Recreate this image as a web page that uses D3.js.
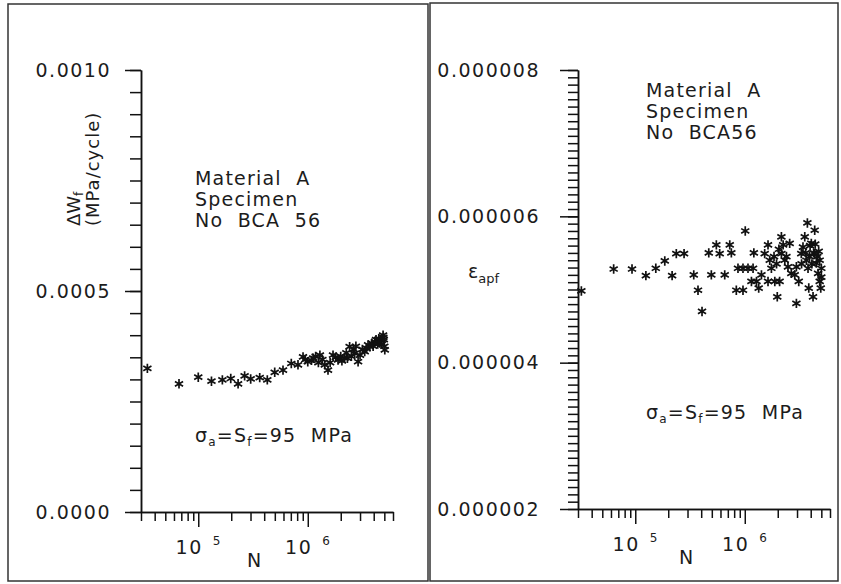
<!DOCTYPE html>
<html lang="en">
<head>
<meta charset="utf-8">
<title>Material A - specimen BCA 56</title>
<script src="https://cdn.jsdelivr.net/npm/d3@7"></script>
<style>
  body { margin: 0; background: #fff; }
  svg { display: block; font-family: "DejaVu Sans", sans-serif; }
  text { fill: #1c1c1c; }
</style>
</head>
<body>
<script>
// left panel: plastic strain energy per cycle (MPa/cycle) against N
var wfCycles = [3.43e4, 6.67e4, 1.00e5, 1.32e5, 1.66e5, 1.98e5, 2.31e5, 2.65e5, 3.01e5, 3.64e5,
  4.27e5, 4.99e5, 5.94e5, 7.07e5, 8.14e5, 9.05e5, 9.50e5, 1.00e6, 1.08e6, 1.12e6,
  1.18e6, 1.25e6, 1.29e6, 1.36e6, 1.43e6, 1.53e6, 1.60e6, 1.70e6, 1.80e6, 1.89e6,
  2.00e6, 2.05e6, 2.17e6, 2.25e6, 2.30e6, 2.41e6, 2.50e6, 2.60e6, 2.68e6, 2.75e6,
  2.88e6, 3.00e6, 3.15e6, 3.31e6, 3.45e6, 3.55e6, 3.68e6, 3.85e6, 3.95e6, 4.09e6,
  4.20e6, 4.35e6, 4.45e6, 4.54e6, 4.65e6, 4.75e6, 4.87e6, 4.90e6, 4.95e6, 5.00e6, 5.05e6];
var wfEnergy = [0.000325, 0.000290, 0.000305, 0.000296, 0.000299, 0.000302, 0.000290, 0.000308, 0.000301, 0.000304,
  0.000299, 0.000316, 0.000321, 0.000336, 0.000333, 0.000351, 0.000345, 0.000340, 0.000343, 0.000348,
  0.000352, 0.000338, 0.000355, 0.000345, 0.000333, 0.000321, 0.000338, 0.000355, 0.000350, 0.000344,
  0.000352, 0.000342, 0.000348, 0.000360, 0.000348, 0.000374, 0.000352, 0.000368, 0.000359, 0.000375,
  0.000340, 0.000355, 0.000368, 0.000363, 0.000370, 0.000378, 0.000374, 0.000382, 0.000375, 0.000385,
  0.000390, 0.000380, 0.000392, 0.000382, 0.000390, 0.000380, 0.000400, 0.000395, 0.000390, 0.000375, 0.000367];

// right panel: plastic strain amplitude against N
var epsCycles = [3.22e4, 6.35e4, 9.34e4, 1.25e5, 1.54e5, 1.86e5, 2.17e5, 2.37e5, 2.79e5, 3.42e5,
  3.74e5, 4.07e5, 4.69e5, 4.95e5, 5.50e5, 5.90e5, 6.56e5, 7.29e5, 7.54e5, 8.37e5,
  8.67e5, 9.63e5, 9.63e5, 1.01e6, 1.07e6, 1.15e6, 1.19e6, 1.21e6, 1.28e6, 1.34e6,
  1.42e6, 1.52e6, 1.63e6, 1.63e6, 1.69e6, 1.75e6, 1.85e6, 1.88e6, 1.95e6, 1.98e6,
  2.05e6, 2.08e6, 2.16e6, 2.16e6, 2.24e6, 2.32e6, 2.40e6, 2.48e6, 2.57e6, 2.66e6,
  2.86e6, 2.96e6, 2.96e6, 3.11e6, 3.28e6, 3.30e6, 3.40e6, 3.53e6, 3.60e6, 3.65e6,
  3.73e6, 3.78e6, 3.84e6, 3.90e6, 3.95e6, 4.05e6, 4.10e6, 4.20e6, 4.25e6, 4.35e6,
  4.35e6, 4.40e6, 4.50e6, 4.60e6, 4.67e6, 4.73e6, 4.83e6, 4.83e6, 4.94e6, 5.00e6, 5.00e6];
var epsAmp = [4.98e-6, 5.28e-6, 5.28e-6, 5.19e-6, 5.29e-6, 5.39e-6, 5.19e-6, 5.49e-6, 5.49e-6, 5.20e-6,
  4.99e-6, 4.70e-6, 5.50e-6, 5.20e-6, 5.61e-6, 5.49e-6, 5.20e-6, 5.61e-6, 5.50e-6, 4.99e-6,
  5.29e-6, 5.29e-6, 4.99e-6, 5.80e-6, 5.29e-6, 5.11e-6, 5.29e-6, 5.50e-6, 5.11e-6, 5.02e-6,
  5.20e-6, 5.49e-6, 5.61e-6, 5.11e-6, 5.40e-6, 5.29e-6, 5.45e-6, 5.11e-6, 5.35e-6, 4.90e-6,
  5.55e-6, 5.11e-6, 5.72e-6, 5.49e-6, 5.61e-6, 5.40e-6, 5.45e-6, 5.31e-6, 5.63e-6, 5.22e-6,
  5.20e-6, 5.31e-6, 4.81e-6, 5.11e-6, 5.49e-6, 5.35e-6, 5.58e-6, 5.72e-6, 5.50e-6, 5.40e-6,
  5.91e-6, 5.29e-6, 5.02e-6, 5.45e-6, 5.60e-6, 5.63e-6, 5.35e-6, 4.90e-6, 5.50e-6, 5.81e-6,
  5.49e-6, 5.62e-6, 5.36e-6, 5.45e-6, 5.22e-6, 5.52e-6, 5.11e-6, 5.40e-6, 5.02e-6, 5.29e-6, 5.17e-6];

var nDomain = [3e4, 6e6];
var nDecades = [1e5, 1e6];
var nMinor = [3e4, 4e4, 5e4, 6e4, 7e4, 8e4, 9e4,
  2e5, 3e5, 4e5, 5e5, 6e5, 7e5, 8e5, 9e5,
  2e6, 3e6, 4e6, 5e6, 6e6];
var wfTicks = [0, 0.0005, 0.0010];
var epsTicks = [2e-6, 4e-6, 6e-6, 8e-6];

var w = 841, h = 584;
var svg = d3.select("body").append("svg")
  .attr("width", w)
  .attr("height", h);

var star = d3.symbol().type(d3.symbolAsterisk).size(62);

function drawPanel(p) {
  var g = svg.append("g");

  g.append("rect")
    .attr("x", p.frame[0]).attr("y", p.frame[1])
    .attr("width", p.frame[2]).attr("height", p.frame[3])
    .attr("fill", "none")
    .attr("stroke", "#333")
    .attr("stroke-width", 1.5);

  var x = d3.scaleLog().domain(nDomain).range([p.x0, p.x0 + 252]);
  var y = d3.scaleLinear().domain(p.yDomain).range([p.yBottom, p.yTop]);

  // minor y ticks
  g.append("g")
    .attr("transform", "translate(" + p.x0 + ",0)")
    .call(d3.axisLeft(y).tickValues(p.yMinor).tickSize(p.minorLen).tickSizeOuter(0).tickFormat(""));

  // major y ticks + labels
  g.append("g")
    .attr("class", "ymajor")
    .attr("transform", "translate(" + p.x0 + ",0)")
    .call(d3.axisLeft(y).tickValues(p.yMajor).tickSize(p.majorLen).tickSizeOuter(0)
      .tickPadding(p.labelGap).tickFormat(p.fmt));

  // minor x ticks
  g.append("g")
    .attr("transform", "translate(0," + p.yBottom + ")")
    .call(d3.axisBottom(x).tickValues(nMinor).tickSize(9).tickSizeOuter(0).tickFormat(""));

  // decades with 10^n labels
  var gx = g.append("g")
    .attr("class", "xmajor")
    .attr("transform", "translate(0," + p.yBottom + ")")
    .call(d3.axisBottom(x).tickValues(nDecades).tickSize(15).tickSizeOuter(0).tickPadding(14)
      .tickFormat(function() { return ""; }));

  gx.selectAll(".tick text")
    .attr("dy", "0.71em")
    .each(function(d) {
      var t = d3.select(this);
      t.append("tspan").text("10");
      t.append("tspan").attr("dx", 10).attr("dy", -9).attr("font-size", 12)
        .text(Math.round(Math.log10(d)));
    });

  g.selectAll(".tick line, .domain").attr("stroke", "#111").attr("stroke-width", 1.5);
  g.selectAll(".ymajor, .xmajor")
    .attr("font-family", null)
    .attr("font-size", 19)
    .attr("letter-spacing", 1.5);
  g.selectAll(".tick text").attr("fill", "#1c1c1c");

  g.append("text")
    .attr("x", p.nLabelX).attr("y", p.yBottom + 55)
    .attr("text-anchor", "middle")
    .attr("font-size", 19)
    .text("N");

  // notes
  var note = g.append("text")
    .attr("font-size", 19)
    .attr("letter-spacing", 1.2)
    .style("white-space", "pre");
  p.notes.forEach(function(s, i) {
    note.append("tspan").attr("x", p.noteX).attr("y", p.noteY + i * 21).text(s);
  });

  var sig = g.append("text")
    .attr("x", p.noteX).attr("y", p.sigmaY)
    .attr("font-size", 19)
    .attr("letter-spacing", 1.2)
    .style("white-space", "pre");
  sig.append("tspan").text("\u03c3");
  sig.append("tspan").attr("font-size", 12).attr("dy", 4).text("a");
  sig.append("tspan").attr("dy", -4).text("=S");
  sig.append("tspan").attr("font-size", 12).attr("dy", 4).text("f");
  sig.append("tspan").attr("dy", -4).text("=95  MPa");

  g.append("g")
    .selectAll("path")
    .data(d3.zip(p.xs, p.ys))
    .enter()
    .append("path")
    .attr("d", star)
    .attr("transform", function(d) { return "translate(" + x(d[0]) + "," + y(d[1]) + ")"; })
    .attr("fill", "none")
    .attr("stroke", "#111")
    .attr("stroke-width", 1.7);

  return g;
}

var left = drawPanel({
  frame: [8, 4, 420, 577],
  x0: 141, yBottom: 512, yTop: 70,
  yDomain: [0, 0.001],
  yMajor: wfTicks,
  yMinor: d3.range(0, 21).map(function(i) { return i * 0.00005; }),
  majorLen: 16, minorLen: 11, labelGap: 14,
  fmt: d3.format(".4f"),
  nLabelX: 254,
  notes: ["Material  A", "Specimen", "No  BCA  56"],
  noteX: 195, noteY: 185,
  sigmaY: 442,
  xs: wfCycles, ys: wfEnergy
});

left.append("text")
  .attr("transform", "translate(99,226) rotate(-90)")
  .attr("font-size", 18)
  .attr("letter-spacing", 1)
  .text("(MPa/cycle)");

var dw = left.append("text")
  .attr("transform", "translate(80,226) rotate(-90)")
  .attr("font-size", 18);
dw.append("tspan").text("\u0394W");
dw.append("tspan").attr("font-size", 12).attr("dy", 3).text("f");

var right = drawPanel({
  frame: [430, 3, 408, 578],
  x0: 578, yBottom: 509, yTop: 70,
  yDomain: [2e-6, 8e-6],
  yMajor: epsTicks,
  yMinor: d3.range(0, 61).map(function(i) { return 2e-6 + i * 1e-7; }),
  majorLen: 18, minorLen: 10, labelGap: 20,
  fmt: d3.format(".6f"),
  nLabelX: 686,
  notes: ["Material  A", "Specimen", "No  BCA56"],
  noteX: 646, noteY: 97,
  sigmaY: 419,
  xs: epsCycles, ys: epsAmp
});

var eps = right.append("text")
  .attr("x", 468).attr("y", 278)
  .attr("font-size", 19);
eps.append("tspan").text("\u03b5");
eps.append("tspan").attr("font-size", 13).attr("dy", 5).text("apf");
</script>
</body>
</html>
